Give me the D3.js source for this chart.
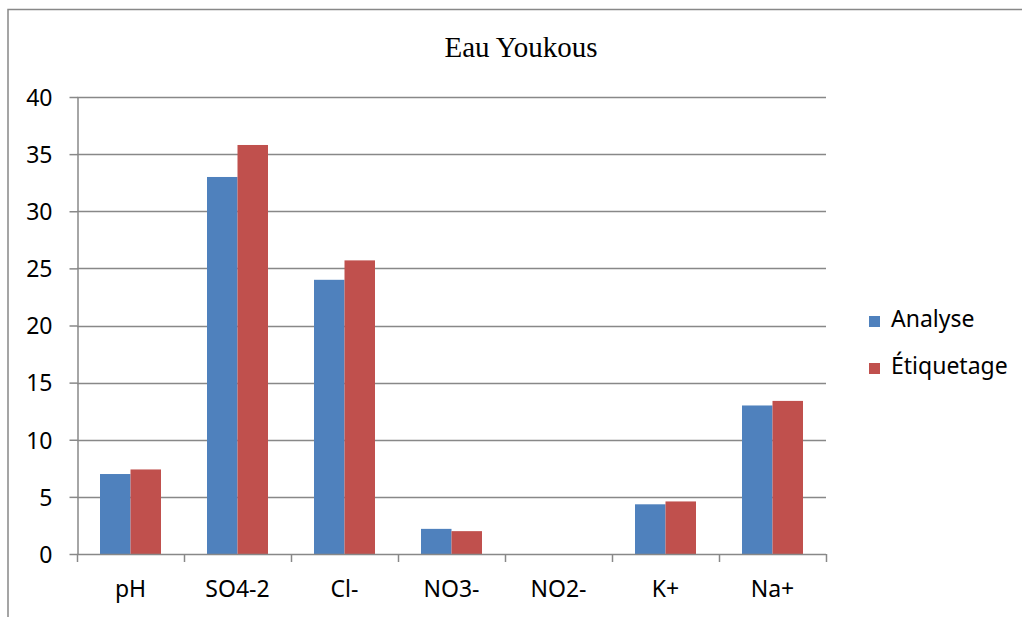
<!DOCTYPE html>
<html>
<head>
  <meta charset="utf-8">
  <script src="https://d3js.org/d3.v7.min.js"></script>
  <style>
    body { margin: 0; background: #fff; overflow: hidden; }
    svg { display: block; }
    .lbl { font-family: 'Noto Sans', sans-serif; font-size: 23px; fill: #000; }
  </style>
</head>
<body>
<script>
  // data
  var categories = ["pH", "SO4-2", "Cl-", "NO3-", "NO2-", "K+", "Na+"];
  var seriesNames = ["Analyse", "Étiquetage"];
  var analyse = [7, 33, 24, 2.2, 0, 4.35, 13];
  var etiquetage = [7.4, 35.8, 25.7, 2.0, 0, 4.6, 13.4];
  var yTicks = [0, 5, 10, 15, 20, 25, 30, 35, 40];
  var colors = ["#4F81BD", "#C0504D"];

  var W = 1022, H = 617;
  var plot = {left: 77, right: 826, top: 97, bottom: 554};

  var svg = d3.select("body").append("svg")
      .attr("width", W)
      .attr("height", H);

  // outer frame (only top + left are visible in the crop)
  svg.append("path")
      .attr("d", "M8,617V9.5H1022")
      .attr("fill", "none")
      .attr("stroke", "#888")
      .attr("stroke-width", 1.5);

  // title
  svg.append("text")
      .attr("x", 521)
      .attr("y", 57)
      .attr("text-anchor", "middle")
      .style("font-family", "'Liberation Serif', 'Times New Roman', serif")
      .style("font-size", "29px")
      .text("Eau Youkous");

  // scales
  var y = d3.scaleLinear().domain([0, 40]).range([plot.bottom, plot.top]);
  var x0 = d3.scaleBand().domain(categories)
      .range([plot.left, plot.right])
      .paddingInner(0.43)
      .paddingOuter(0.215);
  var x1 = d3.scaleBand().domain(seriesNames).range([0, x0.bandwidth()]);

  // gridlines
  svg.append("g").selectAll("line")
    .data(yTicks.filter(function(d) { return d > 0; }))
    .enter().append("line")
      .attr("x1", plot.left).attr("x2", plot.right)
      .attr("y1", function(d) { return Math.round(y(d)) + 0.5; })
      .attr("y2", function(d) { return Math.round(y(d)) + 0.5; })
      .attr("stroke", "#888")
      .attr("stroke-width", 1.5);

  // bars
  var rows = categories.map(function(c, i) {
    return {cat: c, vals: [analyse[i], etiquetage[i]]};
  });
  var groups = svg.append("g").selectAll("g")
    .data(rows)
    .enter().append("g")
      .attr("transform", function(d) { return "translate(" + x0(d.cat) + ",0)"; });

  groups.selectAll("rect")
    .data(function(d) {
      return d.vals.map(function(v, j) { return {name: seriesNames[j], v: v, j: j}; });
    })
    .enter().append("rect")
      .attr("x", function(d) { return x1(d.name); })
      .attr("width", x1.bandwidth())
      .attr("y", function(d) { return y(d.v); })
      .attr("height", function(d) { return y(0) - y(d.v); })
      .attr("fill", function(d) { return colors[d.j]; });

  // y axis
  var yAxis = svg.append("g")
      .attr("transform", "translate(" + (plot.left + 0.5) + ",0)")
      .call(d3.axisLeft(y).tickValues(yTicks).tickSize(8).tickPadding(17).tickSizeOuter(0));
  yAxis.select(".domain").attr("stroke", "#888").attr("stroke-width", 1.5);
  yAxis.selectAll(".tick line").attr("stroke", "#888").attr("stroke-width", 1.5);
  yAxis.selectAll(".tick text")
      .attr("class", "lbl")
      .attr("dy", "0.36em")
      .style("font-family", "'Noto Sans', sans-serif")
      .style("font-size", "23px");

  // x axis: baseline, ticks between categories, labels
  var bounds = categories.map(function(c) {
    return x0(c) - x0.step() * x0.paddingInner() / 2;
  });
  bounds.push(plot.right);

  svg.append("line")
      .attr("x1", plot.left).attr("x2", plot.right)
      .attr("y1", Math.round(y(0)) + 0.5).attr("y2", Math.round(y(0)) + 0.5)
      .attr("stroke", "#888").attr("stroke-width", 1.5);

  svg.append("g").selectAll("line")
    .data(bounds)
    .enter().append("line")
      .attr("x1", function(d) { return Math.round(d) + 0.5; })
      .attr("x2", function(d) { return Math.round(d) + 0.5; })
      .attr("y1", y(0)).attr("y2", y(0) + 8)
      .attr("stroke", "#888").attr("stroke-width", 1.5);

  svg.append("g").selectAll("text")
    .data(categories)
    .enter().append("text")
      .attr("class", "lbl")
      .attr("x", function(d) { return x0(d) + x0.bandwidth() / 2; })
      .attr("y", 597)
      .attr("text-anchor", "middle")
      .text(function(d) { return d; });

  // legend
  var legend = svg.append("g").selectAll("g")
    .data(seriesNames)
    .enter().append("g")
      .attr("transform", function(d, i) { return "translate(869," + (316 + i * 47) + ")"; });
  legend.append("rect")
      .attr("width", 11).attr("height", 11)
      .attr("fill", function(d, i) { return colors[i]; });
  legend.append("text")
      .attr("class", "lbl")
      .attr("x", 22)
      .attr("y", 11)
      .text(function(d) { return d; });
</script>
</body>
</html>
